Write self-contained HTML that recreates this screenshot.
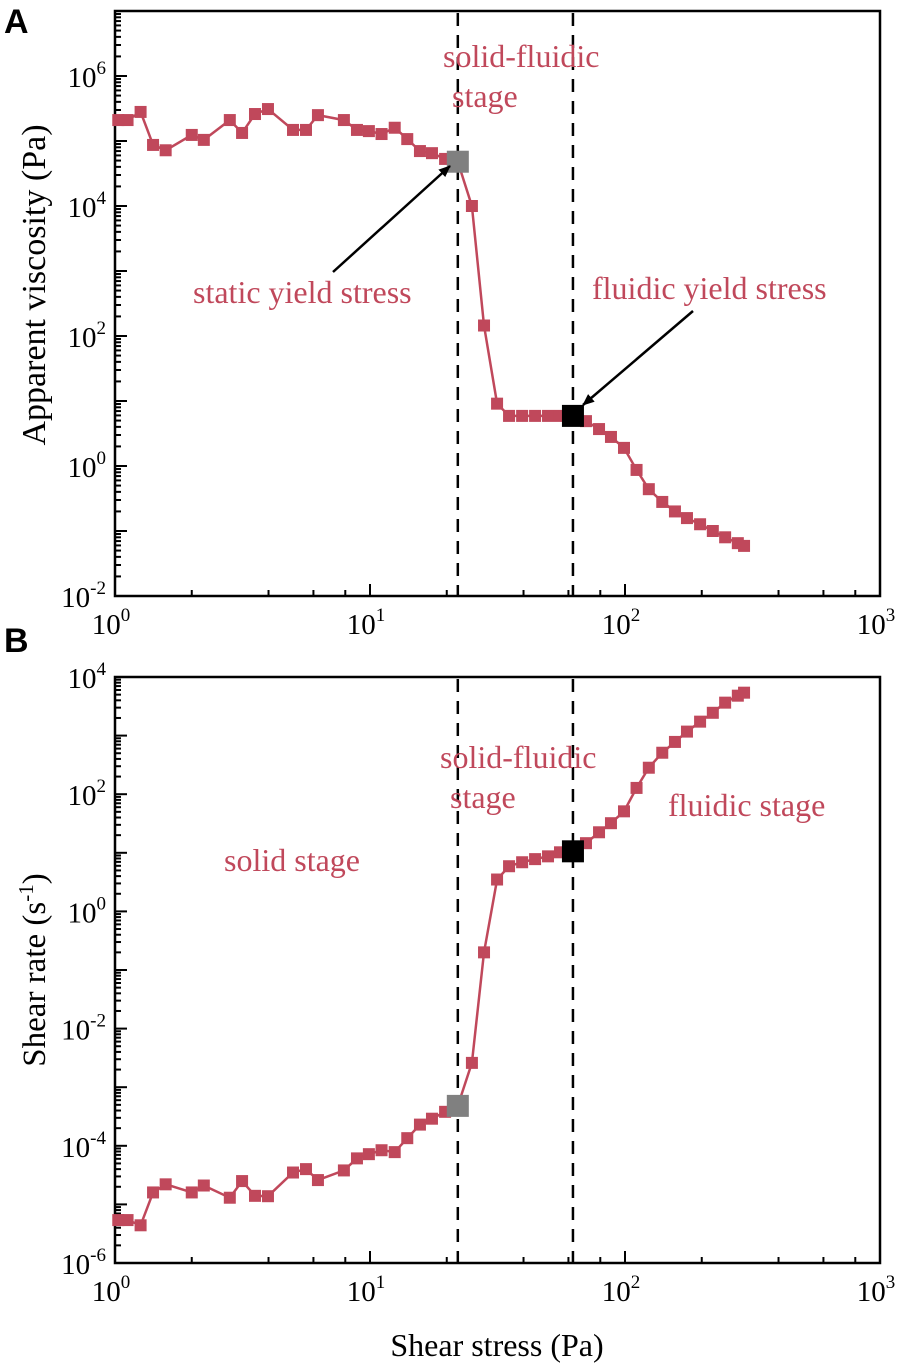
<!DOCTYPE html>
<html><head><meta charset="utf-8"><style>
html,body{margin:0;padding:0;background:#fff;}
svg{display:block;}
text{font-family:"Liberation Serif",serif;}
</style></head><body>
<svg id="chart" width="901" height="1364" viewBox="0 0 901 1364" xmlns="http://www.w3.org/2000/svg"></svg>
<script>
const shearStress = [1.03,1.12,1.26,1.41,1.58,2.0,2.23,2.82,3.15,3.54,3.98,4.99,5.61,6.25,7.9,8.89,9.9,11.1,12.5,14.0,15.7,17.5,19.7,22.1,25.1,28.0,31.5,35.1,39.5,44.4,49.9,55.6,62.5,70.3,79.1,88.1,99.1,111,124,140,157,175,197,221,247,277,293];
const viscosity = [2.1e5,2.1e5,2.8e5,8.7e4,7.2e4,1.24e5,1.04e5,2.1e5,1.33e5,2.6e5,3.1e5,1.48e5,1.48e5,2.5e5,2.1e5,1.48e5,1.42e5,1.28e5,1.6e5,1.07e5,7.0e4,6.5e4,5.3e4,4.8e4,1.0e4,145,9.1,5.9,5.9,5.9,5.9,5.9,5.9,4.9,3.7,2.8,1.9,0.87,0.44,0.28,0.2,0.158,0.127,0.1,0.08,0.065,0.059];
const shearRate = [5.4e-6,5.4e-6,4.4e-6,1.6e-5,2.2e-5,1.6e-5,2.1e-5,1.3e-5,2.5e-5,1.4e-5,1.38e-5,3.5e-5,4.0e-5,2.6e-5,3.8e-5,6.1e-5,7.2e-5,8.4e-5,7.8e-5,1.35e-4,2.3e-4,2.9e-4,3.8e-4,4.8e-4,2.6e-3,0.2,3.5,5.9,6.9,7.8,8.7,10.2,10.6,14.6,22.4,32,51,128,283,510,780,1170,1730,2450,3650,4800,5400];
const staticIndex = 23;
const fluidicIndex = 32;
const xTickExps = [0,1,2,3];
const yTickExpsA = [-2,0,2,4,6];
const yTickExpsB = [-6,-4,-2,0,2,4];
const dashedStress = [22.1,62.5];

const NS="http://www.w3.org/2000/svg";
const svg=document.getElementById('chart');
const RED="#c0485b";
function el(tag,attrs,parent){const e=document.createElementNS(NS,tag);for(const k in attrs)e.setAttribute(k,attrs[k]);(parent||svg).appendChild(e);return e;}
const X0=115,X1=880;
function xs(v){return X0+(Math.log10(v)-0)/3*(X1-X0);}

function panel(cfg){
  const g=el('g',{});
  
  
  const {top,bottom,ymin,ymax}=cfg;
  const ys=v=>bottom-(Math.log10(v)-ymin)/(ymax-ymin)*(bottom-top);
  dashedStress.forEach((s,i)=>{
    const l=el('line',{x1:xs(s),x2:xs(s),y1:top+2,y2:bottom,stroke:'#000','stroke-width':2.5,'stroke-dasharray':'13,9'},g);
    
    
  });
  const ax=el('g',{},g);
  
  
  for(let d=ymin;d<ymax;d++){for(let m=1;m<10;m++){const v=Math.pow(10,d)*m;const y=ys(v);const len=m===1?12:6;
    el('line',{x1:X0,x2:X0+len,y1:y,y2:y,stroke:'#000','stroke-width':2},ax);}}
  for(let d=0;d<3;d++){[1,2,4,6,8].forEach(m=>{const x=xs(Math.pow(10,d)*m);const len=m===1?12:6;
    el('line',{x1:x,x2:x,y1:bottom,y2:bottom-len,stroke:'#000','stroke-width':2},ax);});}
  el('rect',{x:X0,y:top,width:X1-X0,height:bottom-top,fill:'none',stroke:'#000','stroke-width':2.5},ax);
  cfg.yTicks.forEach(e=>{
    const t=el('text',{x:106,y:ys(Math.pow(10,e))+11,'text-anchor':'end','font-size':29},ax);
    
    
    t.innerHTML='10<tspan dy="-13" font-size="19">'+e+'</tspan>';
  });
  xTickExps.forEach(e=>{
    const t=el('text',{x:xs(Math.pow(10,e))-4,y:bottom+38,'text-anchor':'middle','font-size':29},ax);
    
    
    t.innerHTML='10<tspan dy="-13" font-size="19">'+e+'</tspan>';
  });
  const vals=cfg.values;
  const pts=shearStress.map((s,i)=>xs(s).toFixed(1)+','+ys(vals[i]).toFixed(1)).join(' ');
  const pl=el('polyline',{points:pts,fill:'none',stroke:RED,'stroke-width':2.5},g);
  
  
  shearStress.forEach((s,i)=>{
    if(i===staticIndex||i===fluidicIndex)return;
    const r=el('rect',{x:xs(s)-6,y:ys(vals[i])-6,width:12,height:12,fill:RED},g);
    
    
  });
  const sp=el('rect',{x:xs(shearStress[staticIndex])-11,y:ys(vals[staticIndex])-11,width:22,height:22,fill:'#808080'},g);
  
  
  const fp=el('rect',{x:xs(shearStress[fluidicIndex])-11,y:ys(vals[fluidicIndex])-11,width:22,height:22,fill:'#000'},g);
  
  
}
panel({name:'panel-a-viscosity',top:11,bottom:596,ymin:-2,ymax:7,values:viscosity,yTicks:yTickExpsA});
panel({name:'panel-b-shear-rate',top:677,bottom:1263,ymin:-6,ymax:4,values:shearRate,yTicks:yTickExpsB});

function txt(s,x,y,name,opts){const t=el('text',Object.assign({x:x,y:y,'font-size':32,fill:RED},opts||{}));t.textContent=s;
  return t;}
txt('solid-fluidic',443,67,'annotation-solid-fluidic-a');
txt('stage',452,107,'annotation-stage-a');
txt('static yield stress',193,303,'annotation-static-yield');
txt('fluidic yield stress',592,299,'annotation-fluidic-yield');
txt('solid-fluidic',440,768,'annotation-solid-fluidic-b');
txt('stage',450,808,'annotation-stage-b');
txt('fluidic stage',668,816,'annotation-fluidic-stage');
txt('solid stage',224,871,'annotation-solid-stage');
txt('A',4,33,'panel-label-a',{fill:'#000','font-size':34,'font-weight':'bold',style:'font-family:"Liberation Sans",sans-serif'});
txt('B',4,652,'panel-label-b',{fill:'#000','font-size':34,'font-weight':'bold',style:'font-family:"Liberation Sans",sans-serif'});
txt('Shear stress (Pa)',497,1356,'x-axis-title',{fill:'#000','text-anchor':'middle','font-size':32});
txt('Apparent viscosity (Pa)',0,0,'y-axis-title-a',{fill:'#000','text-anchor':'middle','font-size':34,transform:'translate(45,285) rotate(-90)'});
const yb=el('text',{'text-anchor':'middle','font-size':33,transform:'translate(45,970) rotate(-90)'});


yb.innerHTML='Shear rate (s<tspan dy="-12" font-size="21">-1</tspan><tspan dy="12">)</tspan>';
const defs=el('defs',{});
const mk=el('marker',{id:'ah',markerWidth:12,markerHeight:10,refX:11,refY:5,orient:'auto',markerUnits:'userSpaceOnUse'},defs);
el('path',{d:'M0,0 L12,5 L0,10 Z',fill:'#000'},mk);
const a1=el('line',{x1:333,y1:272,x2:450,y2:166,stroke:'#000','stroke-width':2.5});
a1.setAttribute('marker-end','url(#ah)');


const a2=el('line',{x1:693,y1:311,x2:583,y2:405,stroke:'#000','stroke-width':2.5});
a2.setAttribute('marker-end','url(#ah)');


</script>
</body></html>
